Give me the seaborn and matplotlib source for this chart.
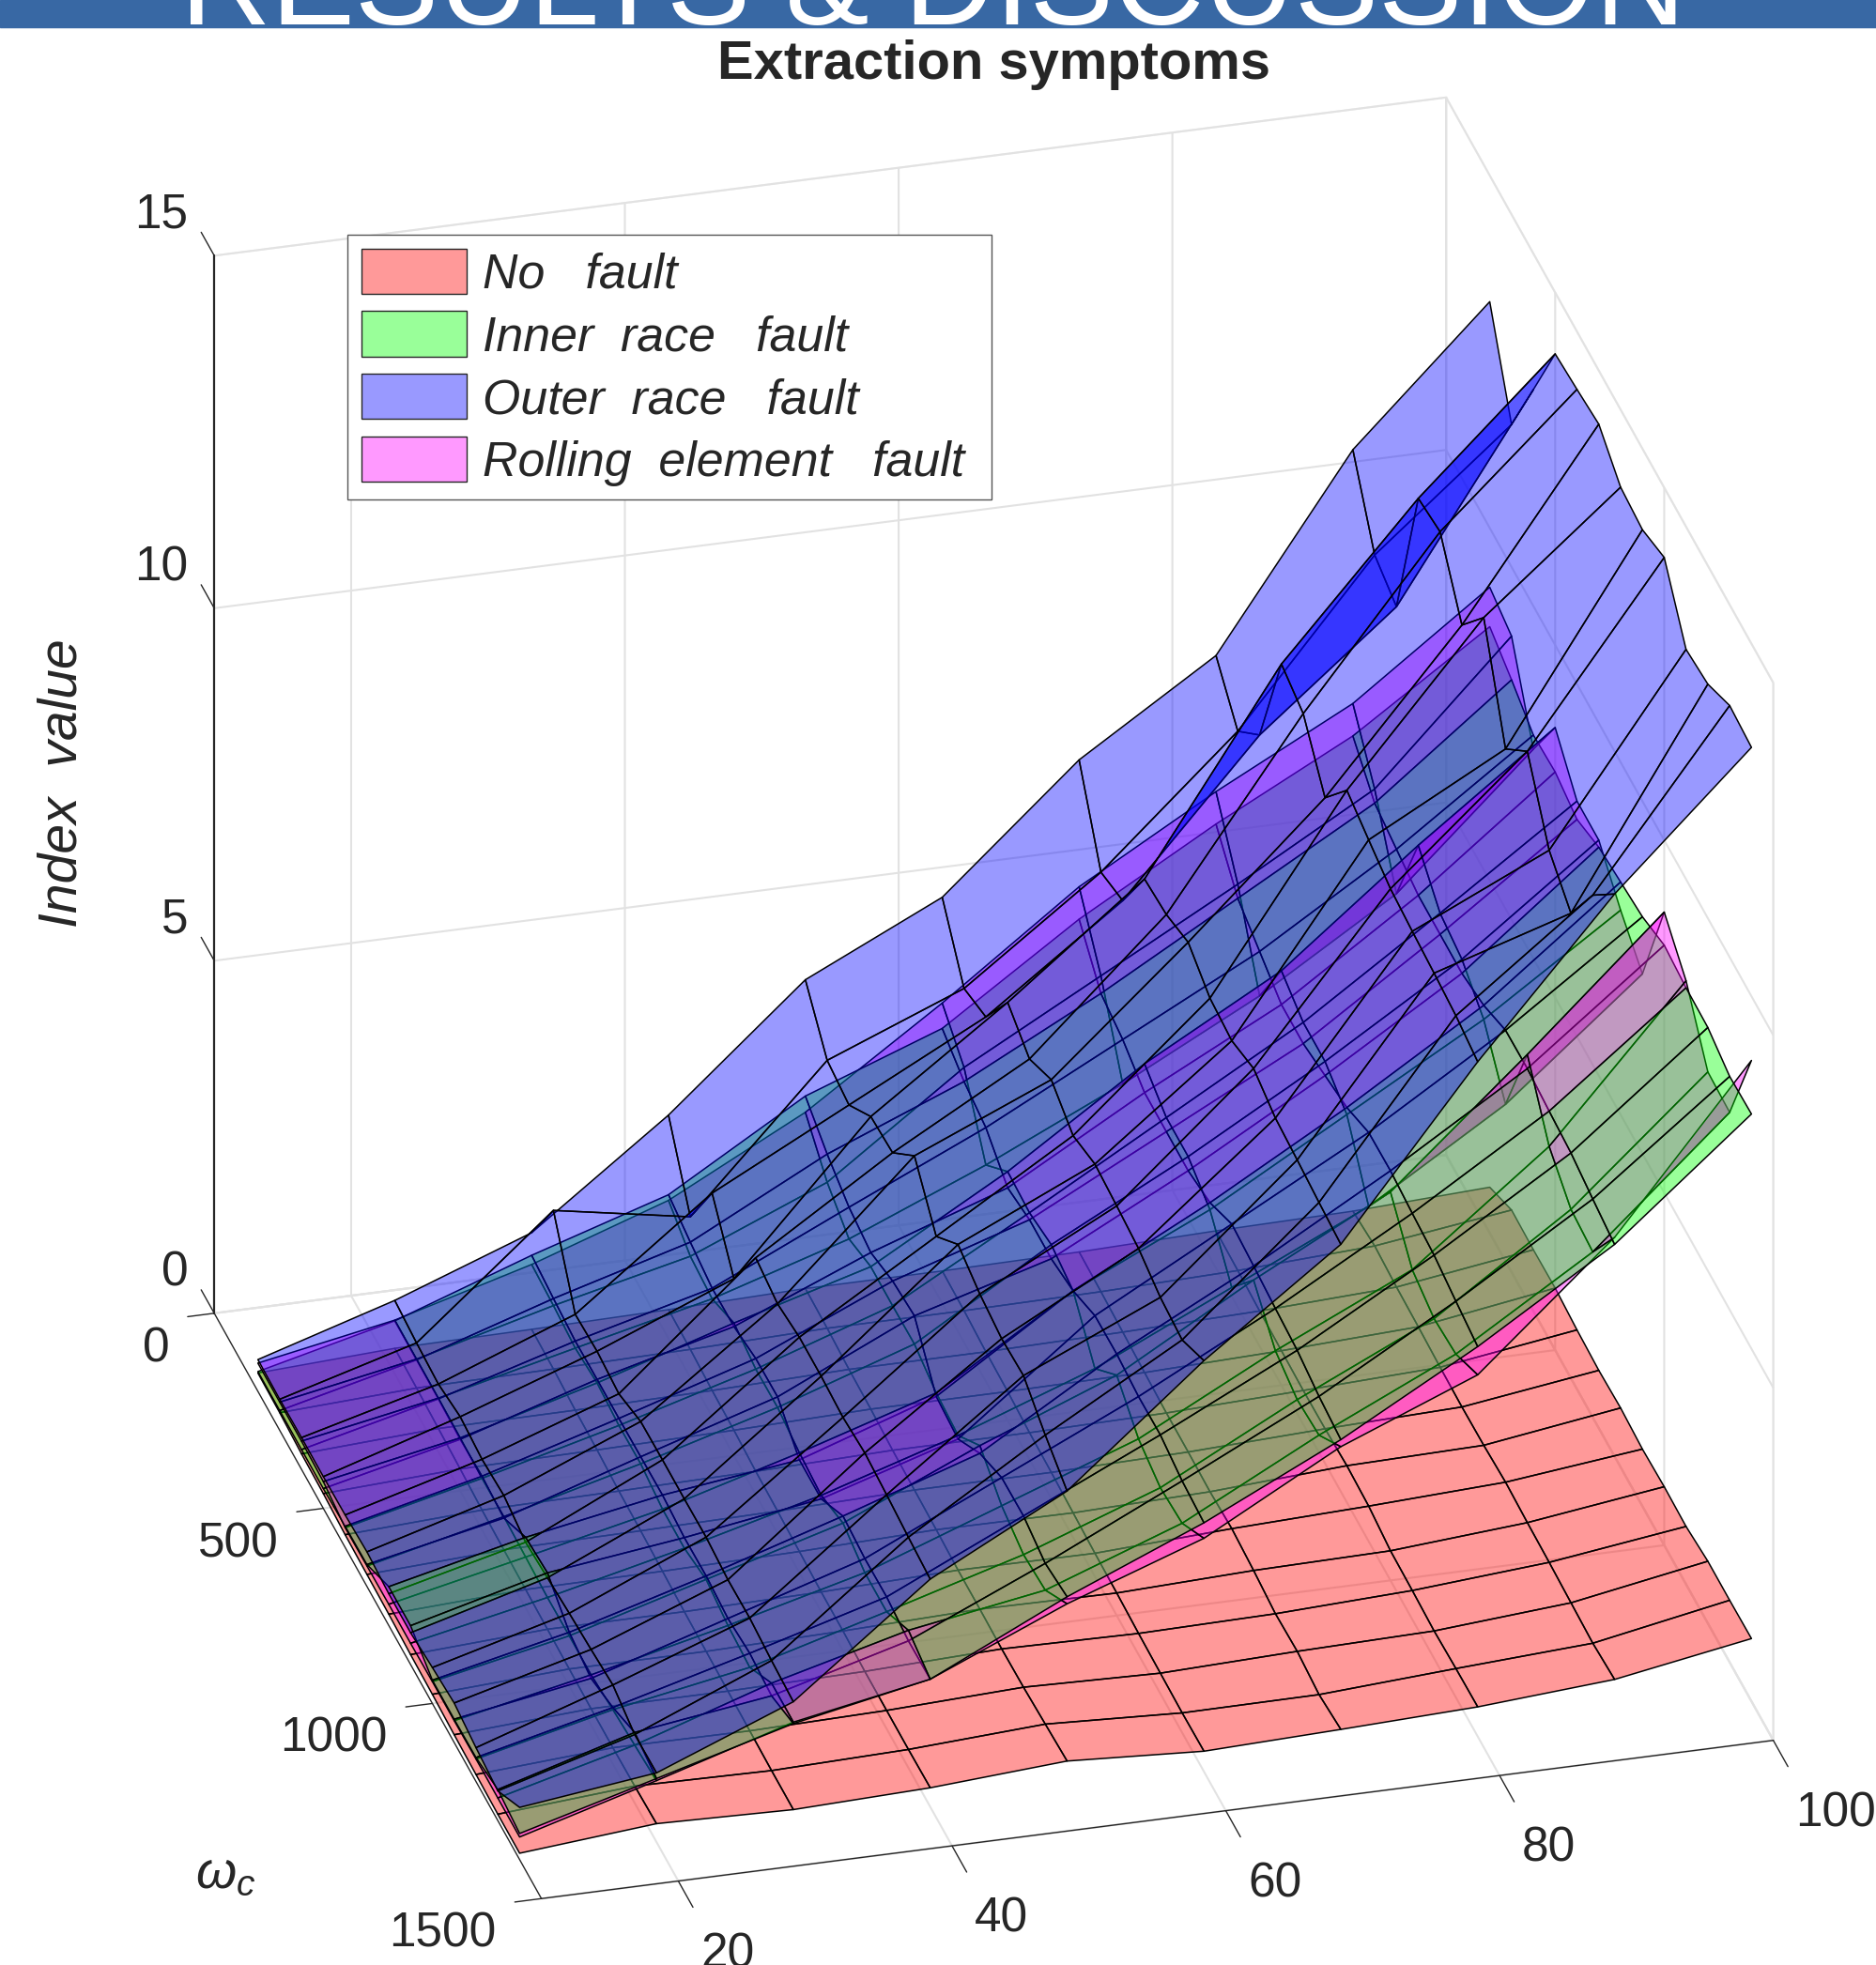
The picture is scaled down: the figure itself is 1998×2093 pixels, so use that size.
import numpy as np
import matplotlib
matplotlib.use('Agg')
import matplotlib.pyplot as plt
import seaborn as sns
from matplotlib.patches import Patch, Rectangle
from mpl_toolkits.mplot3d import proj3d
from mpl_toolkits.mplot3d.art3d import Poly3DCollection

sns.set_theme(style='white', font='Liberation Sans')
plt.rcParams['font.family'] = ['Liberation Sans', 'DejaVu Sans']
plt.rcParams['mathtext.fontset'] = 'custom'
plt.rcParams['mathtext.it'] = 'Liberation Sans:italic'
plt.rcParams['mathtext.rm'] = 'Liberation Sans'

f_vals = [10, 20, 30, 40, 50, 60, 70, 80, 90, 100]
w_vals = [200, 300, 400, 500, 600, 700, 800, 900, 1000, 1100, 1200, 1300, 1400]

# one line per f, values along w
no_fault = [
    [.26, .25, .22, .21, .18, .17, .16, .14, .13, .11, .10, .09, .09],
    [.36, .35, .33, .31, .28, .27, .26, .25, .24, .23, .23, .24, .26],
    [.38, .37, .34, .33, .30, .29, .27, .25, .24, .23, .22, .21, .21],
    [.41, .40, .37, .36, .33, .32, .30, .28, .28, .26, .26, .26, .27],
    [.46, .45, .42, .41, .38, .37, .36, .34, .34, .33, .34, .37, .40],
    [.46, .45, .42, .41, .38, .37, .35, .33, .32, .30, .29, .28, .29],
    [.48, .47, .45, .43, .41, .41, .40, .43, .39, .33, .35, .29, .35],
    [.53, .52, .50, .49, .48, .49, .52, .50, .42, .41, .39, .41, .42],
    [.56, .62, .59, .58, .56, .55, .56, .59, .57, .56, .54, .52, .56],
    [.65, .88, .87, .88, .84, .82, .84, .81, .83, .82, .88, .88, .89],
]
rolling_fault = [
    [.40, .40, .40, .38, .28, .29, .30, .30, .31, .31, .32, .32, .32],
    [.76, .76, .76, .75, .73, .74, .72, .70, .71, .71, .77, .82, .87],
    [1.30, 1.27, 1.22, 1.28, 1.23, 1.24, 1.15, 1.15, 1.26, 1.16, 1.12, 1.45, 1.45],
    [1.96, 1.72, 1.67, 1.88, 1.78, 1.79, 1.70, 1.65, 1.81, 1.66, 1.66, 1.95, 1.81],
    [2.96, 2.52, 2.27, 2.43, 2.43, 2.44, 2.30, 2.25, 2.66, 2.36, 2.22, 2.27, 2.63],
    [4.26, 3.90, 3.07, 3.53, 3.50, 3.60, 3.50, 2.95, 3.41, 3.06, 2.92, 2.97, 3.31],
    [5.66, 4.95, 3.97, 4.81, 4.60, 4.60, 4.40, 3.85, 4.51, 4.06, 3.92, 3.97, 4.36],
    [6.76, 6.00, 4.97, 5.88, 5.70, 5.70, 5.50, 4.75, 5.51, 4.96, 4.82, 4.87, 5.13],
    [7.76, 7.10, 6.17, 7.41, 7.00, 6.90, 6.60, 5.95, 7.21, 6.46, 6.12, 6.07, 6.83],
    [9.16, 9.02, 7.97, 8.83, 8.34, 8.34, 7.90, 7.55, 8.98, 8.56, 7.82, 7.80, 9.09],
]
inner_fault = [
    [.28, .28, .28, .28, .30, .31, .55, .55, .33, .33, .34, .44, .37],
    [.75, .75, .75, .73, .76, .72, 1.00, 1.05, .76, .66, .80, 1.00, .90],
    [1.43, 1.37, 1.32, 1.33, 1.33, 1.34, 1.35, 1.30, 1.31, 1.26, 1.32, 1.27, 1.43],
    [2.04, 1.92, 1.82, 1.83, 1.93, 1.94, 1.60, 1.60, 1.91, 1.86, 1.87, 1.80, 1.81],
    [3.19, 2.92, 2.72, 2.63, 2.78, 2.84, 2.25, 2.20, 2.55, 2.76, 2.77, 2.65, 2.73],
    [3.90, 3.70, 3.60, 3.30, 3.40, 3.40, 3.50, 3.70, 3.71, 3.66, 3.67, 3.57, 3.53],
    [5.20, 4.70, 4.60, 4.40, 4.40, 4.40, 4.50, 4.75, 4.71, 4.66, 4.62, 4.52, 4.46],
    [6.30, 5.80, 5.60, 5.40, 5.40, 5.50, 5.60, 5.80, 5.81, 5.76, 5.72, 5.62, 5.53],
    [7.30, 6.90, 6.80, 6.70, 6.70, 6.70, 6.80, 7.00, 7.01, 6.96, 6.92, 6.82, 6.73],
    [8.60, 8.40, 8.17, 8.20, 8.08, 8.24, 8.30, 8.36, 8.51, 8.46, 8.45, 8.31, 8.33],
]
outer_fault = [
    [.45, .44, .45, .45, .46, .49, .45, .45, .51, .56, .48, .42, .74],
    [1.04, .99, .96, 1.05, 1.00, 1.04, .93, .98, 1.03, 1.07, 1.12, .97, .98],
    [1.75, 2.62, 1.70, 1.73, 1.68, 1.84, 1.85, 1.85, 1.86, 1.81, 1.82, 1.77, 1.74],
    [3.17, 2.28, 3.17, 2.51, 3.36, 3.26, 3.34, 3.34, 3.31, 3.36, 3.32, 3.27, 3.23],
    [4.84, 4.25, 4.17, 4.56, 4.60, 5.11, 4.52, 4.96, 4.81, 4.73, 4.76, 4.47, 4.23],
    [5.76, 5.02, 5.17, 5.93, 5.68, 5.94, 5.70, 5.85, 5.81, 5.76, 5.62, 5.57, 5.83],
    [7.46, 6.42, 6.57, 7.43, 7.48, 7.64, 7.40, 7.35, 7.51, 7.36, 7.32, 7.27, 7.23],
    [8.69, 8.17, 8.67, 10.23, 10.08, 9.44, 10.10, 9.95, 9.81, 9.76, 9.72, 9.67, 9.57],
    [11.36, 10.42, 10.24, 12.33, 12.41, 11.64, 12.30, 10.99, 11.51, 10.66, 10.32, 11.13, 11.70],
    [13.21, 12.02, 13.07, 14.13, 14.18, 14.24, 13.90, 13.85, 14.01, 13.26, 13.32, 13.57, 13.53],
]

surfaces = [no_fault, rolling_fault, inner_fault, outer_fault]
surface_colors = ['#ff0000', '#ff00ff', '#00ff00', '#0000ff']
legend_labels = ['No   fault', 'Inner  race   fault', 'Outer  race   fault', 'Rolling  element   fault ']
legend_colors = ['#ff0000', '#00ff00', '#0000ff', '#ff00ff']
x_ticks = [20, 40, 60, 80, 100]
y_ticks = [0, 500, 1000, 1500]
z_ticks = [0, 5, 10, 15]

W, H = 1998, 2093
fig = plt.figure(figsize=(W / 100, H / 100), dpi=100)
ax = fig.add_axes([0, 0, 1, 1], projection='3d')
ax.set_proj_type('ortho')
ax.view_init(elev=28.65, azim=-105)
ax.set_box_aspect((1017.6, 1008.6, 961.7))

# all faces go in one collection, so the surfaces are depth sorted face by face
polys = []
face_colors = []
for s in range(len(surfaces)):
    Z = np.array(surfaces[s])
    rgba = matplotlib.colors.to_rgba(surface_colors[s], 0.4)
    for i in range(len(f_vals) - 1):
        for j in range(len(w_vals) - 1):
            polys.append([(f_vals[i], w_vals[j], Z[i, j]),
                          (f_vals[i + 1], w_vals[j], Z[i + 1, j]),
                          (f_vals[i + 1], w_vals[j + 1], Z[i + 1, j + 1]),
                          (f_vals[i], w_vals[j + 1], Z[i, j + 1])])
            face_colors.append(rgba)
ax.add_collection3d(Poly3DCollection(polys, facecolors=face_colors, edgecolors='black',
                                     linewidths=1.1, zsort='average'))

ax.set_xlim(10, 100)
ax.set_ylim(1500, 0)
ax.set_zlim(0, 15)
ax.set_xticks(x_ticks)
ax.set_yticks(y_ticks)
ax.set_zticks(z_ticks)
ax.set_xticklabels([''] * len(x_ticks))
ax.set_yticklabels([''] * len(y_ticks))
ax.set_zticklabels([''] * len(z_ticks))
# the reversed w axis turns the x and y ticks round, so they use the inward factor
for axis, inward, outward in [(ax.xaxis, 0.56, 0), (ax.yaxis, 0.27, 0), (ax.zaxis, 0, 0.5)]:
    axis.pane.set_facecolor('white')
    axis.pane.set_edgecolor('#e2e2e2')
    axis.pane.set_linewidth(1.5)
    axis.line.set_color('#262626')
    axis.line.set_linewidth(1.0)
    axis._axinfo['grid']['color'] = '#e2e2e2'
    axis._axinfo['grid']['linewidth'] = 1.5
    axis._axinfo['tick']['color'] = '#262626'
    axis._axinfo['tick']['linewidth'] = {True: 1.0, False: 1.0}
    axis._axinfo['tick']['inward_factor'] = inward
    axis._axinfo['tick']['outward_factor'] = outward
ax.zaxis.set_ticks_position('lower')
ax.zaxis.line.set_linewidth(1.6)

fig.add_artist(Rectangle((0, 1 - 29 / H), 1, 29 / H, transform=fig.transFigure, color='#3868a4'))
fig.text(994 / W, 1 - 26 / H, 'RESULTS & DISCUSSION', color='white', fontsize=96.3, ha='center', va='baseline')
fig.text(1058 / W, 1 - 69 / H, 'Extraction symptoms', color='#262626', fontsize=41.7, fontweight='bold', ha='center', va='center')
fig.text(67 / W, 1 - 834 / H, 'Index  value', color='#262626', fontsize=41, style='italic', rotation=90, ha='center', va='center')
fig.text(240 / W, 1 - 1997 / H, r'$\omega_c$', color='#262626', fontsize=40, ha='center', va='center')
fig.text(1122 / W, 1 - 2122 / H, r'$f$', color='#262626', fontsize=37, ha='center', va='center')

handles = [Patch(facecolor=matplotlib.colors.to_rgba(c, 0.4), edgecolor='#262626', linewidth=1.0) for c in legend_colors]
ax.legend(handles, legend_labels, loc='upper left', bbox_to_anchor=(370 / W, 1 - 250 / H),
          bbox_transform=fig.transFigure, prop={'style': 'italic', 'size': 37.4}, frameon=True,
          fancybox=False, framealpha=1, edgecolor='#555555', handlelength=2.17, handleheight=1.05,
          labelspacing=0.27, borderpad=0.28, handletextpad=0.33, borderaxespad=0)


def corner_px(x, y, z):
    xp, yp, _ = proj3d.proj_transform(x, y, z, ax.get_proj())
    return ax.transData.transform((xp, yp))


# fit the axes box so that the two floor corners land where they are in the picture
target_a = np.array([228.2, H - 1398.8])
target_c = np.array([1888.6, H - 1855.2])
size, left, bottom = 1998.0, 0.0, 47.5
for _ in range(4):
    ax.set_position([left / W, bottom / H, size / W, size / H])
    fig.canvas.draw()
    a = corner_px(10, 0, 0)
    c = corner_px(100, 1500, 0)
    scale = (target_c[0] - target_a[0]) / (c[0] - a[0])
    left = target_a[0] + (left - a[0]) * scale
    bottom = target_a[1] + (bottom - a[1]) * scale
    size = size * scale
ax.set_position([left / W, bottom / H, size / W, size / H])
fig.canvas.draw()


def tick_label(px, dx, dy, text, ha):
    fig.text((px[0] + dx) / W, (px[1] + dy) / H, text, fontsize=37, color='#262626', ha=ha, va='center')


# tick labels sit at a fixed offset from their tick, as in the original
for v in x_ticks:
    tick_label(corner_px(v, 1500, 0), 24, -78, str(v), 'left')
for v in y_ticks:
    tick_label(corner_px(10, v, 0), -48, -38, str(v), 'right')
for v in z_ticks:
    tick_label(corner_px(10, 0, v), -28, 43, str(v), 'right')

fig.savefig('out.png', dpi=100)
